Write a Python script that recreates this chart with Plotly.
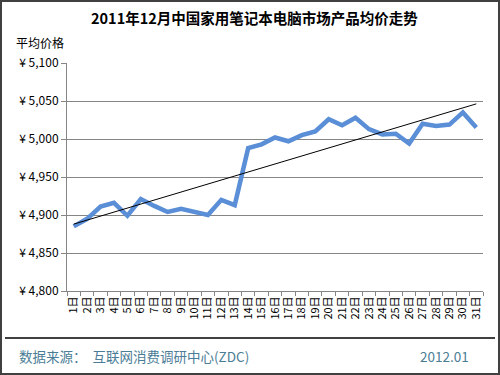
import plotly.graph_objects as go
import numpy as np

days = [f"{i}日" for i in range(1, 32)]
avg_price = [4885, 4895, 4911, 4916, 4899, 4921, 4912, 4904, 4908, 4904,
             4900, 4920, 4913, 4988, 4993, 5002, 4997, 5005, 5010, 5026,
             5018, 5028, 5013, 5006, 5007, 4994, 5020, 5017, 5019, 5035, 5015]
y_ticks = [4800, 4850, 4900, 4950, 5000, 5050, 5100]
y_tick_labels = [f"¥ {v:,}" for v in y_ticks]

title_text = "2011年12月中国家用笔记本电脑市场产品均价走势"
y_label = "平均价格"
source_text = "数据来源：  互联网消费调研中心(ZDC)"
date_text = "2012.01"

# linear trend line (least squares) computed from the data
idx = np.arange(len(avg_price))
k, b = np.polyfit(idx, avg_price, 1)
trend = k * idx + b

FONT = "Noto Sans CJK SC, DejaVu Sans, sans-serif"

fig = go.Figure()
fig.add_trace(go.Scatter(x=days, y=avg_price, mode="lines",
                         line=dict(color="#5A8ED6", width=4.5),
                         hoverinfo="skip", showlegend=False))
fig.add_trace(go.Scatter(x=days, y=trend, mode="lines",
                         line=dict(color="#000000", width=1),
                         hoverinfo="skip", showlegend=False))

L, R, T, B = 67, 17, 63, 84
W, H = 500, 375
pw, ph = W - L - R, H - T - B

def px(x):
    return (x - L) / pw

def py(y):
    return (H - B - y) / ph

fig.update_layout(
    width=W, height=H,
    margin=dict(l=L, r=R, t=T, b=B, autoexpand=False),
    paper_bgcolor="white", plot_bgcolor="white",
    font=dict(family=FONT, color="black", size=12),
    showlegend=False,
    xaxis=dict(type="category", range=[-0.5, 30.5], tickangle=-90,
               showline=True, linecolor="#868686", linewidth=1,
               ticks="outside", tickson="boundaries", ticklen=4,
               tickcolor="#868686", showgrid=False, automargin=False,
               tickfont=dict(size=11, family=FONT), fixedrange=True),
    yaxis=dict(range=[4800, 5100], tickvals=y_ticks, ticktext=y_tick_labels,
               showline=True, linecolor="#868686", linewidth=1,
               ticks="outside", ticklen=5, tickcolor="#868686",
               showgrid=True, gridcolor="#868686", gridwidth=1,
               zeroline=False, tickfont=dict(size=12, family=FONT),
               automargin=False, fixedrange=True),
)

fig.add_shape(type="rect", xref="paper", yref="paper",
              x0=px(1), x1=px(499), y0=py(374), y1=py(1),
              line=dict(color="#404040", width=2), layer="above")
fig.add_shape(type="line", xref="paper", yref="paper",
              x0=px(5), x1=px(495), y0=py(338), y1=py(338),
              line=dict(color="#000000", width=1.5))

fig.add_annotation(text=f"<b>{title_text}</b>", xref="paper", yref="paper",
                   x=px(254), y=py(18), showarrow=False,
                   xanchor="center", yanchor="middle",
                   font=dict(size=14.5, family=FONT, color="black"))
fig.add_annotation(text=y_label, xref="paper", yref="paper",
                   x=px(14), y=py(42), showarrow=False,
                   xanchor="left", yanchor="middle",
                   font=dict(size=12, family=FONT, color="black"))
fig.add_annotation(text=source_text, xref="paper", yref="paper",
                   x=px(17), y=py(356), showarrow=False,
                   xanchor="left", yanchor="middle",
                   font=dict(size=13.5, family=FONT, color="#4B7D96"))
fig.add_annotation(text=date_text, xref="paper", yref="paper",
                   x=px(471), y=py(356), showarrow=False,
                   xanchor="right", yanchor="middle",
                   font=dict(size=13.5, family=FONT, color="#4B7D96"))

fig.write_html("out.html", config={"displayModeBar": False},
               post_script="document.body.style.margin='0';document.body.style.overflow='hidden';")
